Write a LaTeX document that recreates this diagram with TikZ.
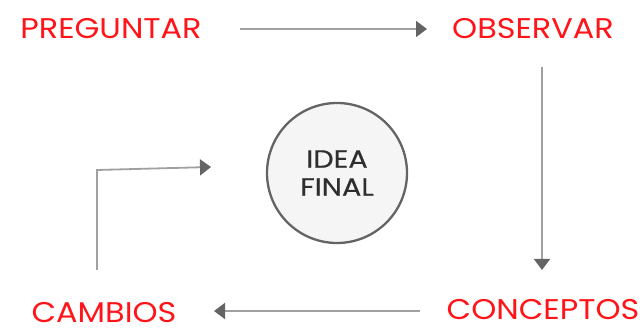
\documentclass[tikz,border=0pt]{standalone}
\usepackage{fontspec}
\setmainfont{Poppins}
\newfontfamily\labfont{Poppins}[FakeStretch=1.12]
\newfontfamily\idfont{Poppins}[FakeStretch=1.15,FakeBold=0.4]
\usetikzlibrary{arrows.meta}
\definecolor{lbl}{RGB}{255,20,25}
\definecolor{ln}{RGB}{160,160,160}
\definecolor{hd}{RGB}{100,100,100}
\begin{document}
\begin{tikzpicture}[x=1pt,y=-1pt,
  lab/.style={text=lbl,font=\labfont\fontsize{28.5}{32}\selectfont,inner sep=0pt,anchor=center},
  conn/.style={draw=ln,line width=1.8pt,-{Triangle[length=11pt,width=16pt,color=hd]}}]
\useasboundingbox (0,0) rectangle (643,328);
\node[lab] (preg) at (111,29) {PREGUNTAR};
\node[lab] (obs) at (533,29) {OBSERVAR};
\node[lab] (conc) at (543,310) {CONCEPTOS};
\node[lab] (camb) at (104,313) {CAMBIOS};
\node[circle,draw=hd,line width=2.3pt,fill=black!4,minimum size=140pt,inner sep=0pt,
  align=center,text=black!82,font=\idfont\fontsize{25}{28}\selectfont] (idea) at (337,173) {IDEA\\FINAL};
\coordinate (a1) at (240,29);
\coordinate (a2) at (427,29);
\draw[conn] (a1) -- (a2);
\coordinate (b1) at (542,67);
\coordinate (b2) at (542,270);
\draw[conn] (b1) -- (b2);
\coordinate (c1) at (420,311);
\coordinate (c2) at (214,311);
\draw[conn] (c1) -- (c2);
\coordinate (d1) at (97,270);
\coordinate (d2) at (97,170);
\coordinate (d3) at (211,167);
\draw[conn] (d1) -- (d2) -- (d3);
\end{tikzpicture}
\end{document}
